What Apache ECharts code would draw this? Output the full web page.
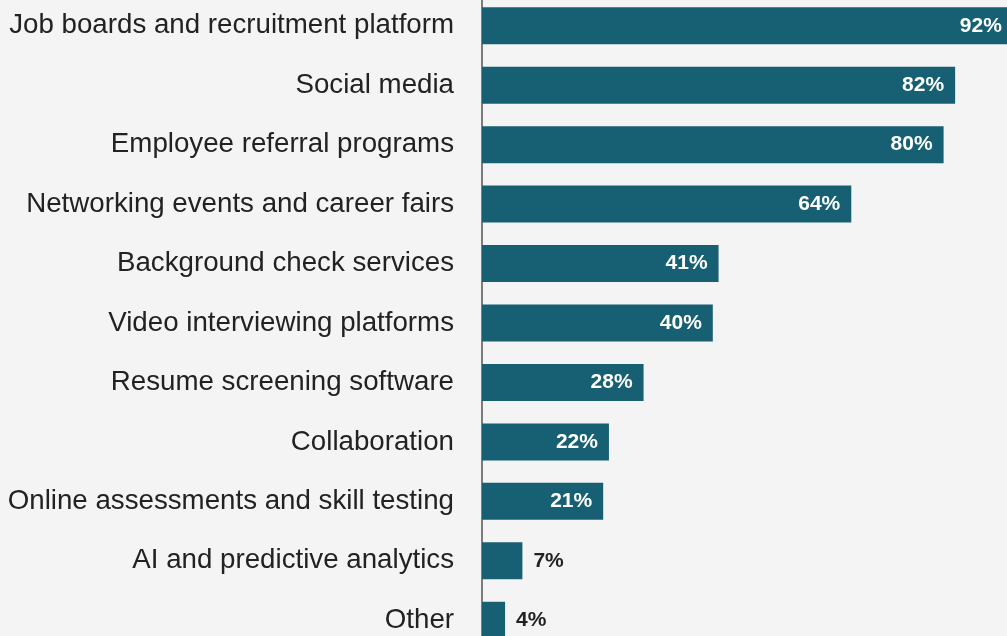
<!DOCTYPE html>
<html>
<head>
<meta charset="utf-8">
<script src="https://cdn.jsdelivr.net/npm/echarts@6/dist/echarts.min.js"></script>
<style>
  html, body { margin: 0; padding: 0; background: #f4f4f4; }
  #chart { width: 1007px; height: 636px; }
</style>
</head>
<body>
<div id="chart"></div>
<script>
// 类别与数值
const categories = [
  'Job boards and recruitment platform',
  'Social media',
  'Employee referral programs',
  'Networking events and career fairs',
  'Background check services',
  'Video interviewing platforms',
  'Resume screening software',
  'Collaboration',
  'Online assessments and skill testing',
  'AI and predictive analytics',
  'Other'
]
const values = [92, 82, 80, 64, 41, 40, 28, 22, 21, 7, 4]

const chart = echarts.init(document.getElementById('chart'))

// 小数值的标签放在柱外
const data = values.map(v => {
  const outside = v < 15
  return {
    value: v,
    label: {
      position: outside ? 'right' : 'insideRight',
      color: outside ? '#222' : '#fff',
      distance: 11
    }
  }
})

chart.setOption({
  backgroundColor: '#f4f4f4',
  animation: false,
  grid: {
    left: 482,
    top: -4,
    width: 577,
    height: 654,
    outerBoundsMode: 'none',
    containLabel: false
  },
  xAxis: {
    type: 'value',
    min: 0,
    max: 100,
    show: false
  },
  yAxis: {
    type: 'category',
    data: categories,
    inverse: true,
    axisTick: { show: false },
    axisLine: { show: true, lineStyle: { color: '#555', width: 1.5 } },
    axisLabel: {
      color: '#222',
      fontSize: 27.7,
      fontFamily: 'Liberation Sans, Arial, sans-serif',
      margin: 28,
      padding: [3, 0, 0, 0]
    }
  },
  series: [
    {
      type: 'bar',
      data: data,
      barWidth: 37,
      itemStyle: { color: '#175f73' },
      label: {
        show: true,
        formatter: '{c}%',
        fontSize: 21,
        fontWeight: 'bold',
        fontFamily: 'Liberation Sans Narrow, Liberation Sans, Arial, sans-serif'
      }
    }
  ]
})
</script>
</body>
</html>
